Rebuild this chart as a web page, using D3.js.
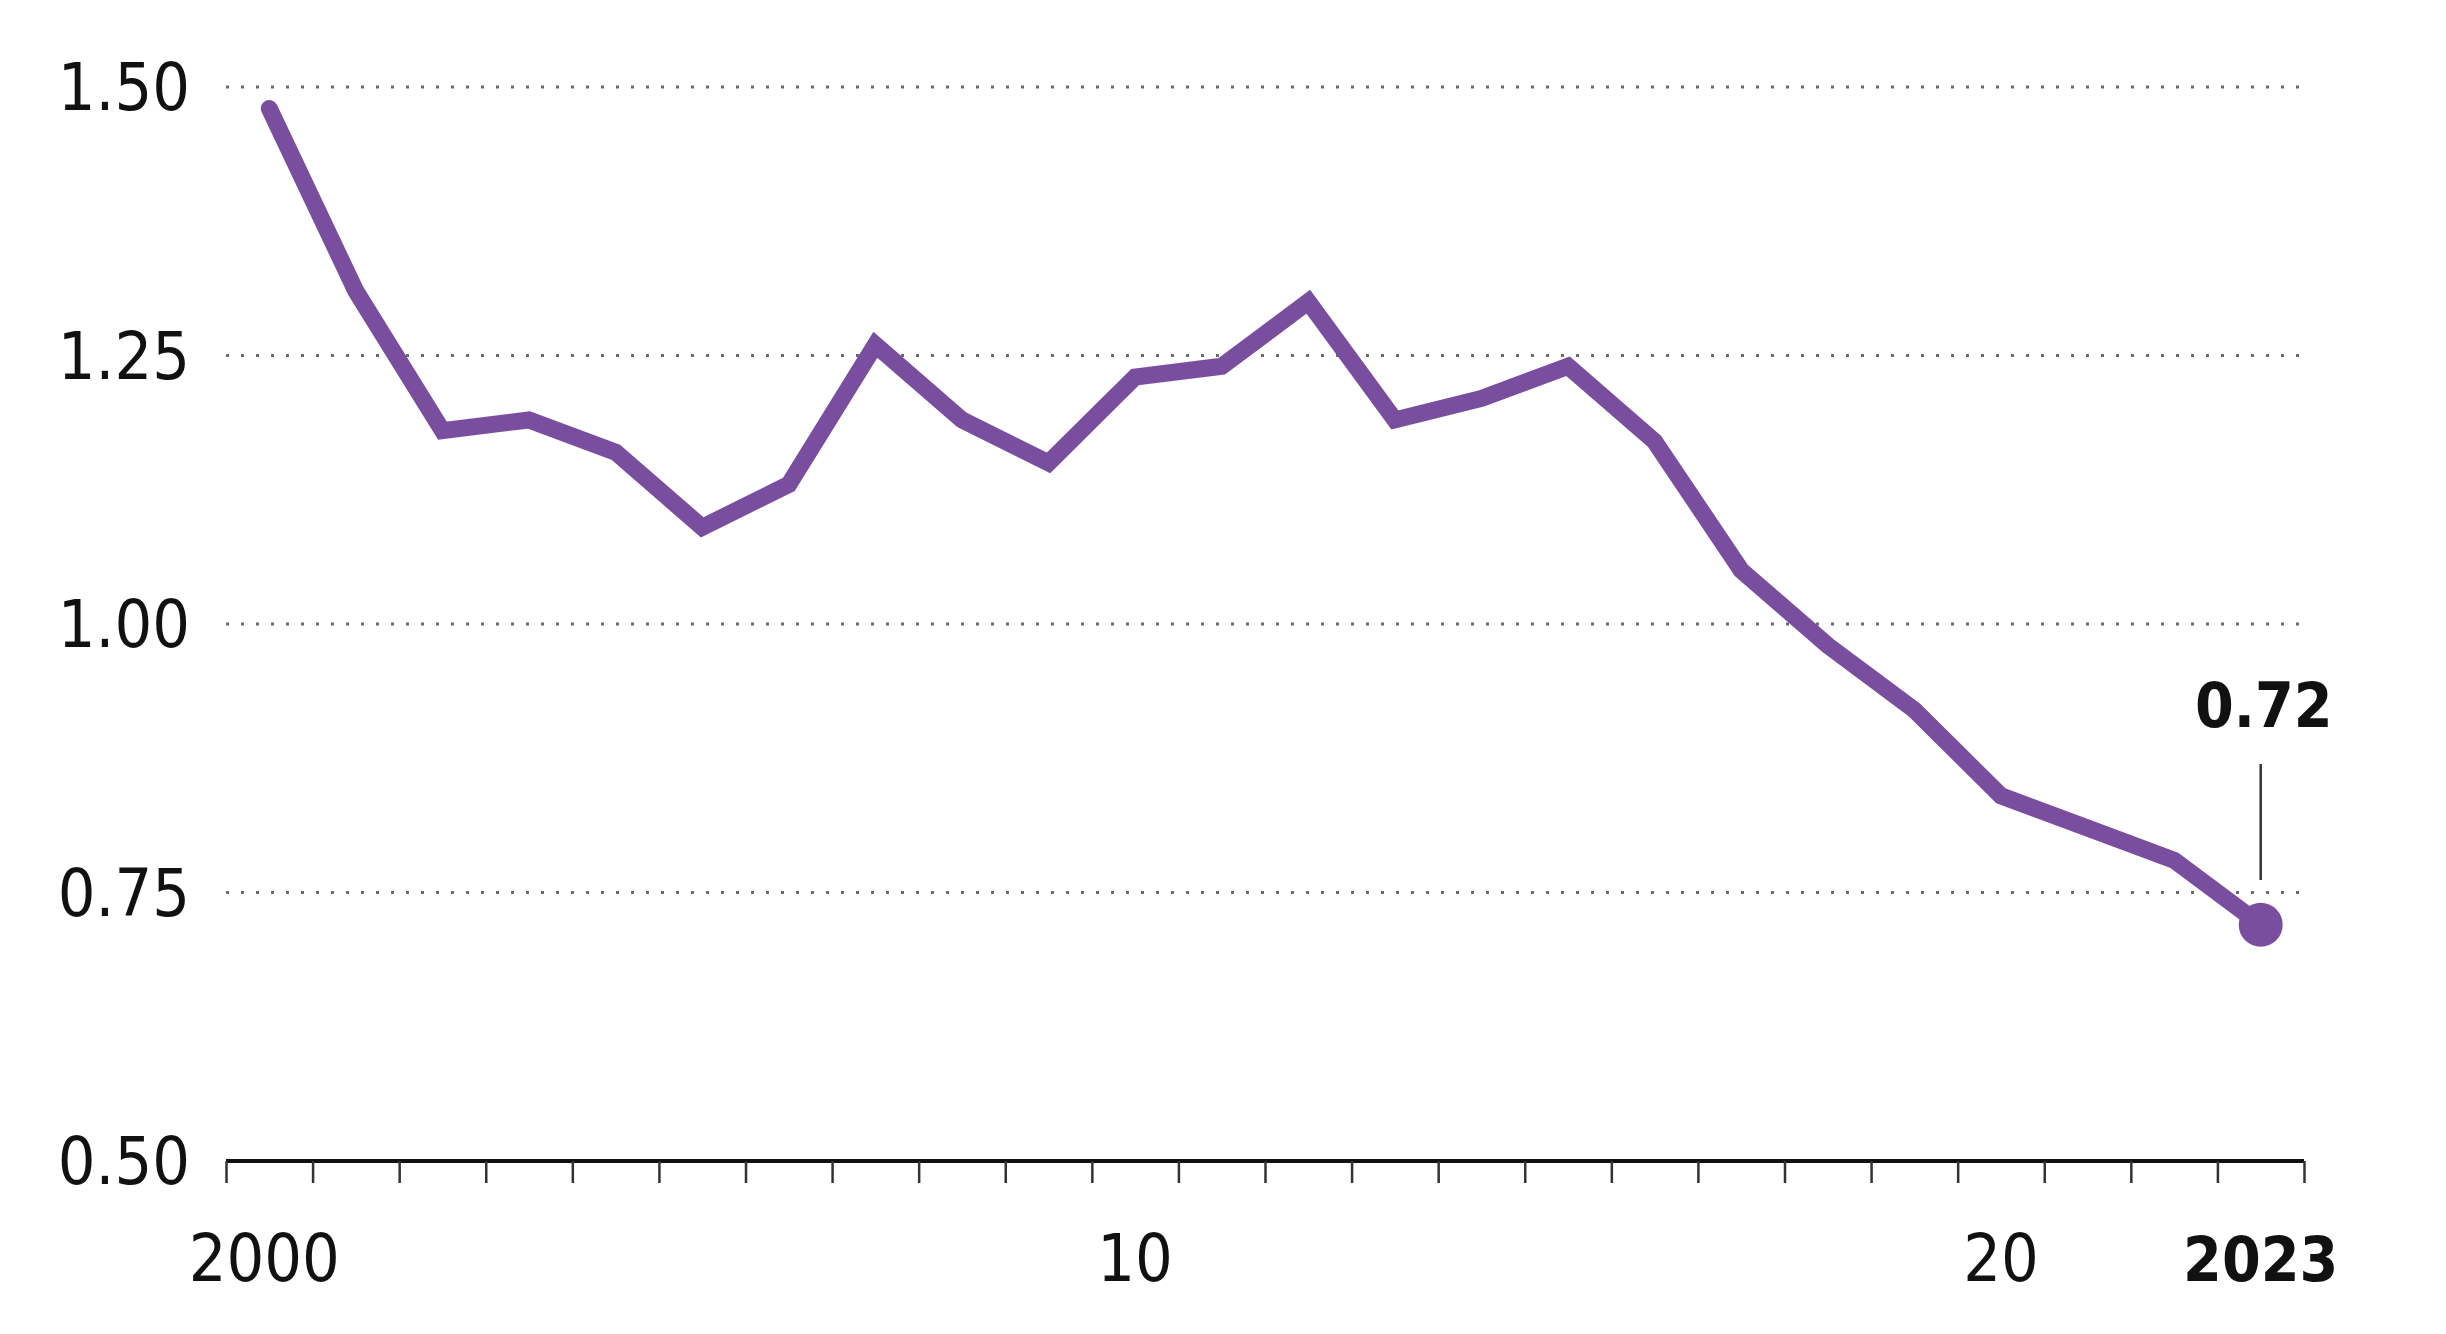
<!DOCTYPE html>
<html><head><meta charset="utf-8">
<script src="https://cdn.jsdelivr.net/npm/d3@7"></script>
<style>html,body{margin:0;padding:0;background:#fff;}svg{display:block;}</style>
</head><body>
<svg id="chart" width="2446" height="1334"></svg>
<script>
const years = [2000,2001,2002,2003,2004,2005,2006,2007,2008,2009,2010,2011,2012,2013,2014,2015,2016,2017,2018,2019,2020,2021,2022,2023];
const values = [1.48,1.31,1.18,1.19,1.16,1.09,1.13,1.26,1.19,1.15,1.23,1.24,1.30,1.19,1.21,1.24,1.17,1.05,0.98,0.92,0.84,0.81,0.78,0.72];
const yTicks = [0.50,0.75,1.00,1.25,1.50];
const xLabelYears = [2000,2010,2020,2023];
const xLabelText = ["2000","10","20","2023"];

const purple = "#7a4e9f";
const svg = d3.select("#chart");
const x = d3.scaleLinear().domain([1999.5, 2023.5]).range([226, 2304]);
const y = d3.scaleLinear().domain([0.5, 1.5]).range([1161, 87]);

// gridlines
svg.append("g").selectAll("line").data(yTicks.filter(d => d > 0.5)).join("line")
  .attr("x1", x.range()[0]).attr("x2", x.range()[1])
  .attr("y1", d => y(d)).attr("y2", d => y(d))
  .attr("stroke", "#6a6a6a").attr("stroke-width", 3)
  .attr("stroke-dasharray", "3,12");

// y labels
svg.append("g").selectAll("text").data(yTicks).join("text")
  .attr("x", 190).attr("y", d => y(d) + 23)
  .attr("text-anchor", "end")
  .attr("font-family", "DejaVu Sans Condensed, DejaVu Sans")
  .attr("font-stretch", "condensed")
  .attr("font-size", 66).attr("fill", "#111")
  .text(d => d3.format(".2f")(d));

// x axis
const tickVals = d3.range(1999.5, 2024, 1);
const xAxis = d3.axisBottom(x).tickValues(tickVals).tickSize(22).tickFormat("");
const gx = svg.append("g").attr("transform", `translate(0,${y(0.5)})`).call(xAxis);
gx.select(".domain").attr("stroke", "#111").attr("stroke-width", 4)
  .attr("d", `M${x.range()[0]},0H${x.range()[1]}`);
gx.selectAll(".tick line").attr("stroke", "#333").attr("stroke-width", 2.5);

svg.append("g").selectAll("text").data(xLabelYears).join("text")
  .attr("x", d => d === 2000 ? x(d) - 5 : x(d)).attr("y", 1281)
  .attr("text-anchor", "middle")
  .attr("font-family", "DejaVu Sans Condensed, DejaVu Sans")
  .attr("font-stretch", "condensed")
  .attr("font-weight", (d, i) => d === 2023 ? "bold" : "normal")
  .attr("font-size", (d) => d === 2023 ? 62 : 66).attr("fill", "#111")
  .text((d, i) => xLabelText[i]);

// line
const line = d3.line().x((d, i) => x(years[i])).y(d => y(d));
svg.append("path").datum(values)
  .attr("d", line).attr("fill", "none")
  .attr("stroke", purple).attr("stroke-width", 17)
  .attr("stroke-linecap", "round").attr("stroke-linejoin", "miter");

// end dot and label
const lastY = years[years.length - 1], lastV = values[values.length - 1];
svg.append("circle").attr("cx", x(lastY)).attr("cy", y(lastV)).attr("r", 22).attr("fill", purple);
svg.append("line").attr("x1", x(lastY)).attr("x2", x(lastY))
  .attr("y1", 764).attr("y2", 880).attr("stroke", "#333").attr("stroke-width", 2.5);
svg.append("text").attr("x", x(lastY) + 3).attr("y", 727)
  .attr("text-anchor", "middle")
  .attr("font-family", "DejaVu Sans Condensed, DejaVu Sans")
  .attr("font-stretch", "condensed").attr("font-weight", "bold")
  .attr("font-size", 62).attr("fill", "#111")
  .text(d3.format(".2f")(lastV));
</script>
</body></html>
